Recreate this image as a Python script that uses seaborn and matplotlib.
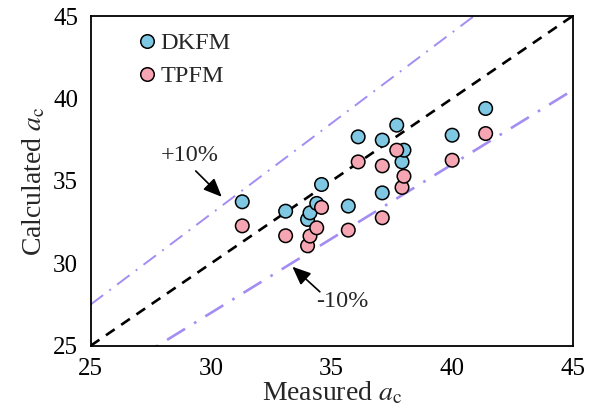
import numpy as np
import pandas as pd
import matplotlib
matplotlib.use("Agg")
import matplotlib.pyplot as plt
import seaborn as sns

# Measured vs. calculated critical crack length a_c for two models
measured = [31.29, 33.09, 34.00, 34.10, 34.38, 34.58, 35.69, 36.10,
            37.10, 37.10, 37.70, 37.92, 38.00, 40.00, 41.39]
dkfm = [33.73, 33.16, 32.66, 33.06, 33.63, 34.78, 33.47, 37.67,
        37.47, 34.27, 38.38, 36.15, 36.86, 37.77, 39.39]
tpfm = [32.27, 31.67, 31.06, 31.65, 32.15, 33.39, 32.01, 36.15,
        35.91, 32.76, 36.86, 34.60, 35.28, 36.25, 37.87]
models = ["DKFM", "TPFM"]
colors = {"DKFM": "#7ec8e3", "TPFM": "#f6a5b3"}
axis_ticks = [25, 30, 35, 40, 45]

sns.set_theme(style="white")
plt.rcParams["font.family"] = ["Liberation Serif", "DejaVu Serif"]
plt.rcParams["mathtext.fontset"] = "stix"

df = pd.DataFrame({
    "Measured": measured * 2,
    "Calculated": dkfm + tpfm,
    "Model": [models[0]] * len(dkfm) + [models[1]] * len(tpfm),
})

fig = plt.figure(figsize=(5.99, 4.16), dpi=100)
ax = fig.add_axes([0.1514, 0.169, 0.8046, 0.7925])

lo, hi = axis_ticks[0], axis_ticks[-1]
xs = np.array([lo, hi])
ax.plot(xs, xs, color="black", lw=1.9, ls=(0, (4, 3)), zorder=1)
ax.plot(xs, 1.1 * xs, color="#a48df2", lw=1.4, ls=(0, (8, 4, 1, 4)), zorder=1)
ax.plot(xs, 0.9 * xs, color="#a48df2", lw=1.9, ls=(0, (8, 4, 1, 4)), zorder=1)

sns.scatterplot(data=df, x="Measured", y="Calculated", hue="Model",
                palette=colors, s=95, edgecolor="black", linewidth=1.1,
                ax=ax, zorder=3, legend=True)

ax.set_xlim(lo, hi)
ax.set_ylim(lo, hi)
ax.set_xticks(axis_ticks)
ax.set_yticks(axis_ticks)
ax.tick_params(axis="both", direction="out", length=5, width=1.2,
               labelsize=18, colors="black", pad=4)
for side in ["left", "right", "top", "bottom"]:
    ax.spines[side].set_visible(True)
    ax.spines[side].set_color("black")
    ax.spines[side].set_linewidth(1.3)

ax.set_xlabel(r"Measured $a_\mathrm{c}$", fontsize=20, labelpad=0)
ax.set_ylabel(r"Calculated $a_\mathrm{c}$", fontsize=20, labelpad=4)

handles, labels = ax.get_legend_handles_labels()
ax.legend(handles, labels, loc="upper left", bbox_to_anchor=(0.062, 0.995),
          frameon=False, fontsize=17.5, handlelength=1.0, handletextpad=0.04,
          labelspacing=0.45, borderaxespad=0.2, markerscale=1.0)

# +/-10% bound labels with pointer arrows
ax.text(29.12, 36.54, "+10%", fontsize=17.5, ha="center", va="center")
ax.annotate("", xy=(30.44, 34.03), xytext=(29.36, 35.6),
            arrowprops=dict(arrowstyle="-|>,head_length=0.7,head_width=0.3",
                            color="black", lw=1.2, mutation_scale=16,
                            shrinkA=0, shrinkB=0))
ax.text(35.43, 27.67, "-10%", fontsize=17.5, ha="center", va="center")
ax.annotate("", xy=(33.37, 29.79), xytext=(34.51, 28.27),
            arrowprops=dict(arrowstyle="-|>,head_length=0.7,head_width=0.3",
                            color="black", lw=1.2, mutation_scale=16,
                            shrinkA=0, shrinkB=0))

fig.savefig("out.png", dpi=100)
